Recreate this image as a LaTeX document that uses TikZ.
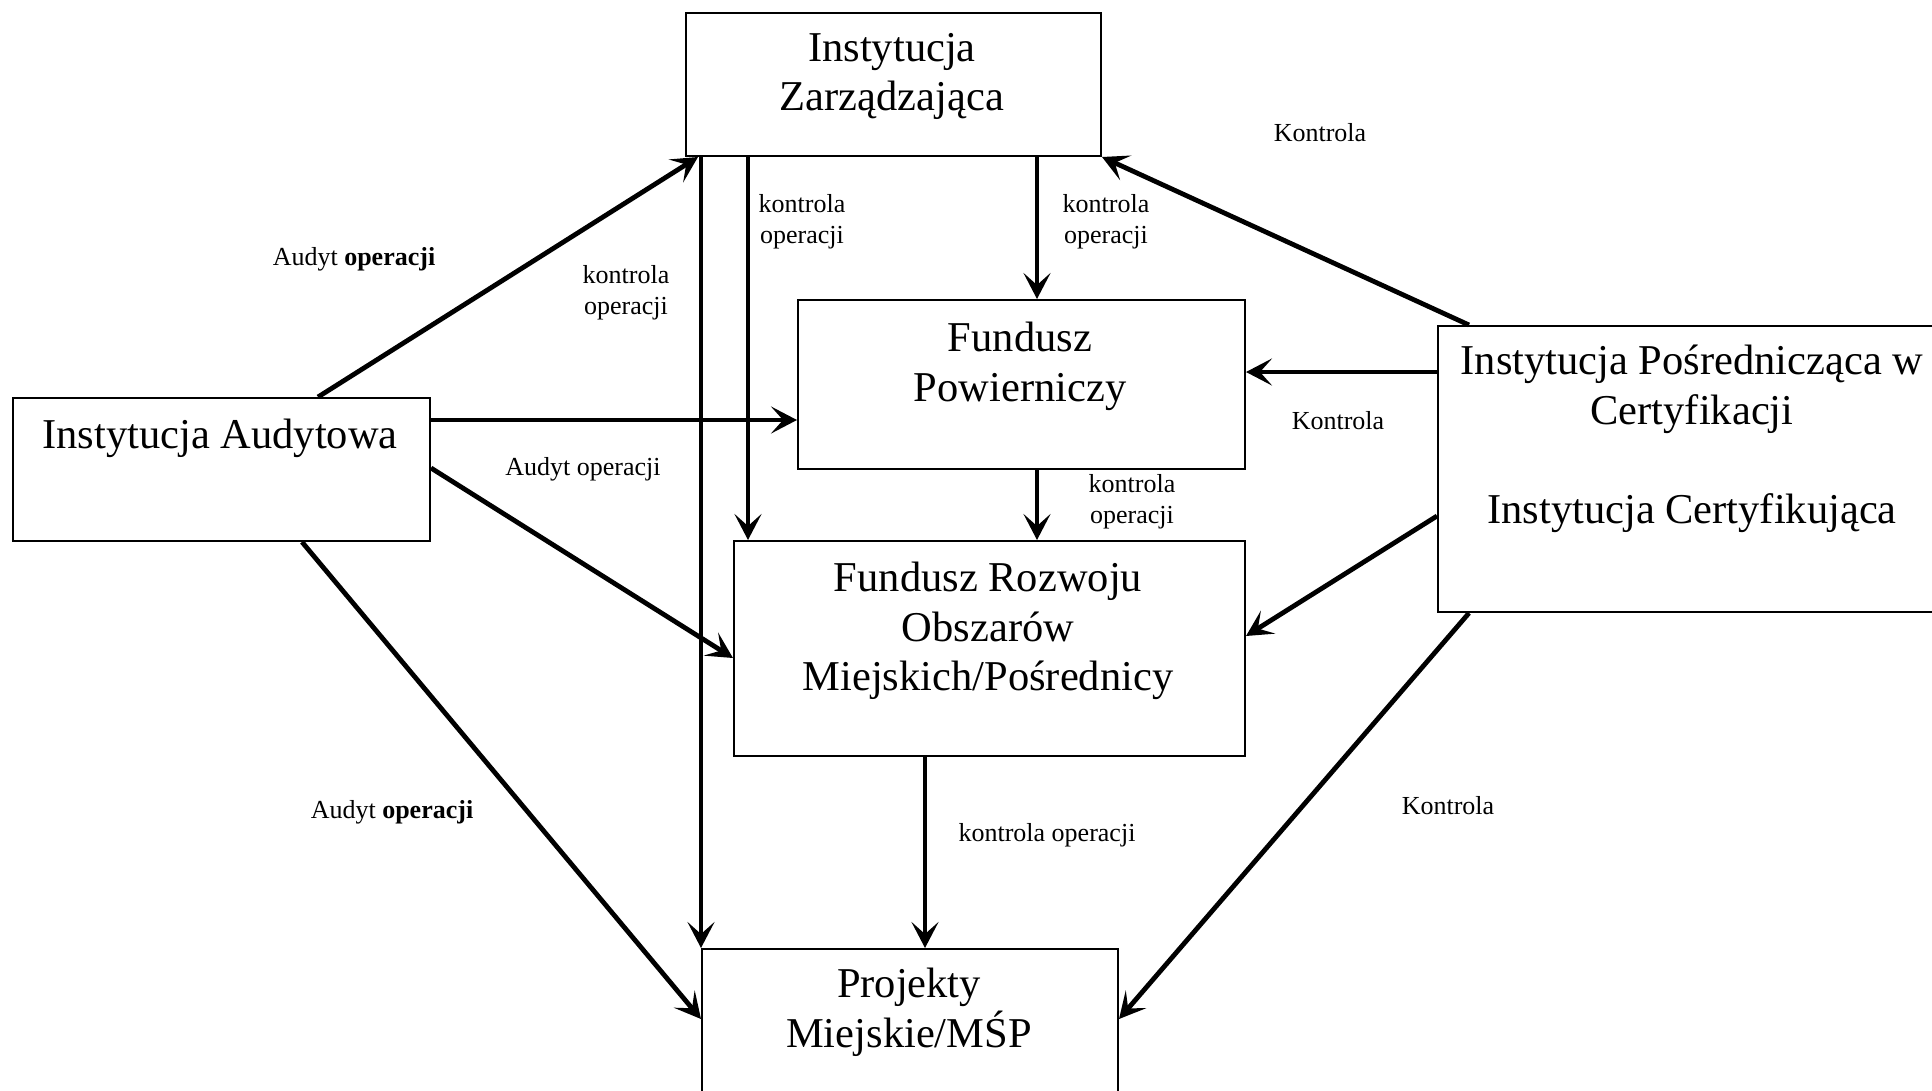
\documentclass[tikz,border=0pt]{standalone}
\usepackage{fontspec}
\setmainfont{Liberation Serif}
\usetikzlibrary{arrows.meta,calc}

\begin{document}
\begin{tikzpicture}[x=1pt,y=-1pt,
  boxnode/.style={draw, line width=2pt, inner sep=0pt, anchor=north west},
  boxtext/.style={inner sep=0pt, anchor=north, align=center, font=\fontsize{42.5}{49.5}\selectfont},
  lbl/.style={inner sep=0pt, align=center, font=\fontsize{26}{31}\selectfont},
  flow/.style={line width=4.8pt, -{Stealth[length=26pt,width=27pt,inset=12pt]}}]

\useasboundingbox (0,0) rectangle (1932,1090);
\clip (0,0) rectangle (1932,1090);

% boxes
\node[boxnode, minimum width=415pt, minimum height=143pt] (iz)  at (685,12)  {};
\node[boxnode, minimum width=447pt, minimum height=169pt] (fp)  at (797,299) {};
\node[boxnode, minimum width=511pt, minimum height=215pt] (frm) at (733,540) {};
\node[boxnode, minimum width=416pt, minimum height=172pt] (prj) at (701,948) {};
\node[boxnode, minimum width=417pt, minimum height=143pt] (ia)  at (12,397)  {};
\node[boxnode, minimum width=510pt, minimum height=286pt] (ipc) at (1437,325) {};

% box captions
\node[boxtext] (iztxt)  at (892,33)  {Instytucja\\Zarządzająca};
\node[boxtext] (fptxt)  at (1020,322) {Fundusz\\Powierniczy};
\node[boxtext] (frmtxt) at (988,562) {Fundusz Rozwoju\\Obszarów\\Miejskich/Pośrednicy};
\node[boxtext] (prjtxt) at (909,968) {Projekty\\Miejskie/MŚP};
\node[boxtext] (iatxt)  at (220,419) {Instytucja Audytowa};
\node[boxtext] (ipctxt) at (1692,345) {Instytucja Pośrednicząca w\\Certyfikacji\\[49.5pt]Instytucja Certyfikująca};

% connectors
\draw[flow] ($(ia.north west)+(306,0)$) -- ($(iz.south west)+(13,0)$);
\draw[flow] ($(iz.south west)+(16,0)$) -- (prj.north west);
\draw[flow] ($(iz.south west)+(63,0)$) -- ($(frm.north west)+(15,0)$);
\draw[flow] ($(iz.south west)+(352,0)$) -- ($(fp.north west)+(240,0)$);
\draw[flow] ($(fp.south west)+(240,0)$) -- ($(frm.north west)+(304,0)$);
\draw[flow] ($(frm.south west)+(192,0)$) -- ($(prj.north west)+(224,0)$);
\draw[flow] ($(ia.north east)+(0,23)$) -- ($(fp.north west)+(0,121)$);
\draw[flow] ($(ia.north east)+(0,71)$) -- ($(frm.north west)+(0,118)$);
\draw[flow] ($(ia.south west)+(290,0)$) -- ($(prj.north west)+(0,71)$);
\draw[flow] ($(ipc.north west)+(32,0)$) -- (iz.south east);
\draw[flow] ($(ipc.north west)+(0,47)$) -- ($(fp.north east)+(0,73)$);
\draw[flow] ($(ipc.north west)+(0,191)$) -- ($(frm.north east)+(0,96)$);
\draw[flow] ($(ipc.south west)+(32,0)$) -- ($(prj.north east)+(0,71)$);

% connector labels
\node[lbl] (l1)  at (354,259)  {Audyt \textbf{operacji}};
\node[lbl] (l2)  at (626,293)  {kontrola\\operacji};
\node[lbl] (l3)  at (802,222)  {kontrola\\operacji};
\node[lbl] (l4)  at (1106,222) {kontrola\\operacji};
\node[lbl] (l5)  at (1132,502) {kontrola\\operacji};
\node[lbl] (l6)  at (1047,835) {kontrola operacji};
\node[lbl] (l7)  at (583,469)  {Audyt operacji};
\node[lbl] (l8)  at (392,812)  {Audyt \textbf{operacji}};
\node[lbl] (l9)  at (1320,133) {Kontrola};
\node[lbl] (l10) at (1338,421) {Kontrola};
\node[lbl] (l11) at (1448,806) {Kontrola};

\end{tikzpicture}
\end{document}
